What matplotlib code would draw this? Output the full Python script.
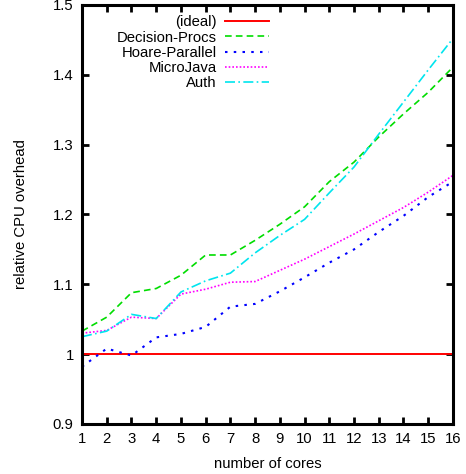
import matplotlib
matplotlib.use("Agg")
import matplotlib.pyplot as plt

plt.rcParams['font.family'] = ['Liberation Sans', 'DejaVu Sans']

cores = list(range(1, 17))
ideal = [1.0] * 16
decision_procs = [1.033, 1.053, 1.088, 1.094, 1.113, 1.142, 1.142, 1.163,
                  1.186, 1.211, 1.247, 1.275, 1.311, 1.344, 1.375, 1.411]
hoare_parallel = [0.982, 1.008, 0.998, 1.024, 1.029, 1.039, 1.068, 1.072,
                  1.090, 1.110, 1.131, 1.150, 1.175, 1.198, 1.225, 1.247]
micro_java = [1.030, 1.034, 1.053, 1.051, 1.086, 1.093, 1.103, 1.104,
              1.120, 1.136, 1.154, 1.172, 1.191, 1.210, 1.232, 1.256]
auth = [1.025, 1.033, 1.057, 1.051, 1.089, 1.105, 1.116, 1.145,
        1.170, 1.193, 1.231, 1.268, 1.315, 1.361, 1.407, 1.452]

series = [
    ("(ideal)", ideal, "#ff0000", "-", 1.4),
    ("Decision-Procs", decision_procs, "#00dd00", (0, (4, 2.5)), 1.2),
    ("Hoare-Parallel", hoare_parallel, "#0000ff", (0, (1.2, 3)), 1.5),
    ("MicroJava", micro_java, "#ff00ff", (0, (1, 1.2)), 1.2),
    ("Auth", auth, "#00e5ee", (0, (6, 2, 1, 2)), 1.2),
]

FS = 10.7

fig = plt.figure(figsize=(4.66, 4.74), dpi=100)
ax = fig.add_axes([0.176, 0.1055, 0.796, 0.884])

for name, vals, color, ls, lw in series:
    ax.plot(cores, vals, color=color, linestyle=ls, linewidth=lw, label=name)

ax.set_xlim(1, 16)
ax.set_ylim(0.9, 1.5)
ax.set_xticks(cores)
ax.set_yticks([0.9, 1.0, 1.1, 1.2, 1.3, 1.4, 1.5])
ax.set_yticklabels(["0.9", "1", "1.1", "1.2", "1.3", "1.4", "1.5"])

for sp in ax.spines.values():
    sp.set_linewidth(2.2)
ax.tick_params(direction="in", length=5, width=2, top=True, right=True,
               labelsize=FS, pad=6)

ax.set_xlabel("number of cores", fontsize=FS, labelpad=8)
ax.set_ylabel("relative CPU overhead", fontsize=FS, labelpad=18)

leg = ax.legend(loc="upper right", bbox_to_anchor=(0.503, 0.975), frameon=False,
                markerfirst=False, fontsize=FS, handlelength=2.9,
                labelspacing=0.08, handletextpad=0.6, borderaxespad=0,
                borderpad=0)
for t in leg.get_texts():
    t.set_ha("right")
leg._legend_box.align = "right"

fig.savefig("out.png", dpi=100)
